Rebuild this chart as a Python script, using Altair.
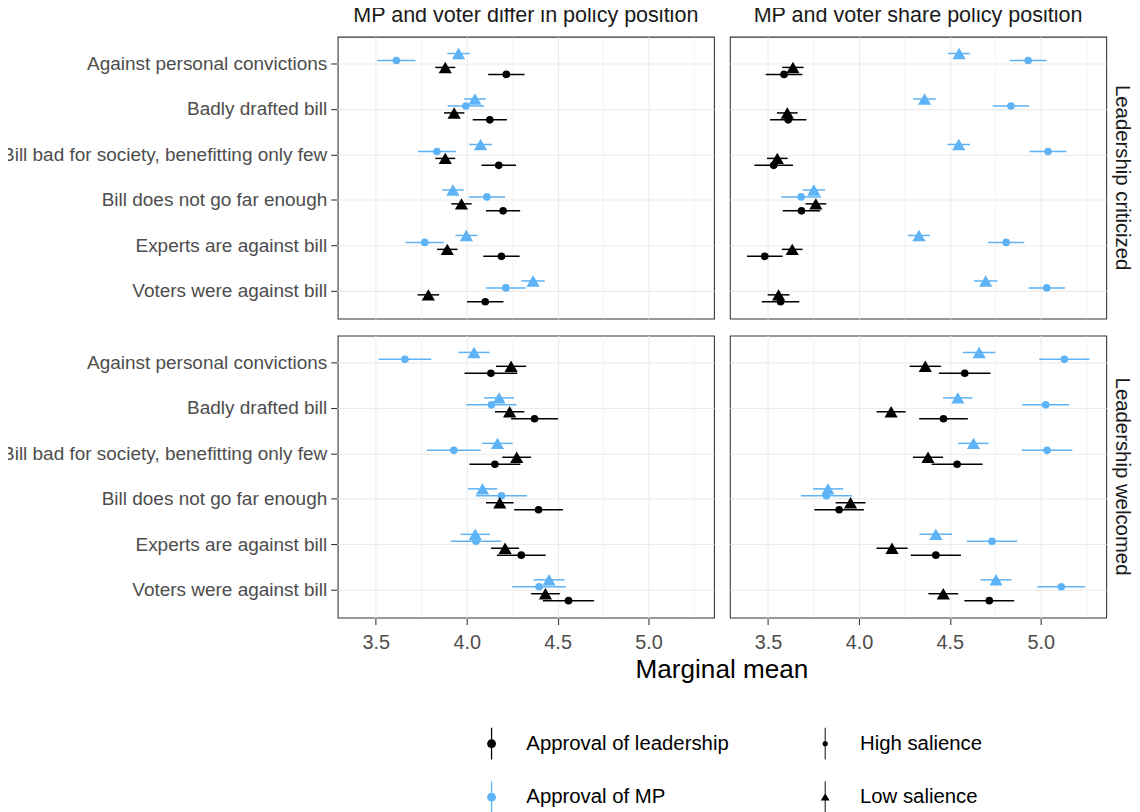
import altair as alt
import pandas as pd

categories = [
    "Against personal convictions",
    "Badly drafted bill",
    "Bill bad for society, benefitting only few",
    "Bill does not go far enough",
    "Experts are against bill",
    "Voters were against bill",
]
positions = ["MP and voter differ in policy position", "MP and voter share policy position"]
reactions = ["Leadership criticized", "Leadership welcomed"]
outcomes = ["Approval of leadership", "Approval of MP"]
saliences = ["High salience", "Low salience"]

# Leadership criticized / MP and voter differ
cd_mp_low_est = [3.955, 4.045, 4.076, 3.924, 3.998, 4.365]
cd_mp_low_ci = [0.062, 0.060, 0.062, 0.059, 0.060, 0.064]
cd_mp_high_est = [3.613, 3.995, 3.836, 4.111, 3.769, 4.215]
cd_mp_high_ci = [0.105, 0.100, 0.104, 0.100, 0.105, 0.110]
cd_ld_low_est = [3.882, 3.931, 3.882, 3.971, 3.893, 3.789]
cd_ld_low_ci = [0.055, 0.056, 0.055, 0.056, 0.056, 0.059]
cd_ld_high_est = [4.218, 4.127, 4.176, 4.200, 4.191, 4.102]
cd_ld_high_ci = [0.100, 0.094, 0.095, 0.094, 0.100, 0.100]

# Leadership criticized / MP and voter share
cs_mp_low_est = [4.551, 4.361, 4.549, 3.752, 4.330, 4.697]
cs_mp_low_ci = [0.061, 0.062, 0.062, 0.061, 0.060, 0.065]
cs_mp_high_est = [4.931, 4.836, 5.040, 3.682, 4.810, 5.033]
cs_mp_high_ci = [0.101, 0.100, 0.101, 0.110, 0.100, 0.100]
cs_ld_low_est = [3.637, 3.606, 3.551, 3.763, 3.633, 3.558]
cs_ld_low_ci = [0.059, 0.057, 0.057, 0.057, 0.057, 0.060]
cs_ld_high_est = [3.588, 3.611, 3.531, 3.684, 3.482, 3.569]
cs_ld_high_ci = [0.101, 0.100, 0.106, 0.103, 0.098, 0.103]

# Leadership welcomed / MP and voter differ
wd_mp_low_est = [4.040, 4.178, 4.169, 4.087, 4.047, 4.453]
wd_mp_low_ci = [0.086, 0.082, 0.084, 0.081, 0.081, 0.085]
wd_mp_high_est = [3.660, 4.136, 3.929, 4.191, 4.051, 4.398]
wd_mp_high_ci = [0.145, 0.138, 0.148, 0.140, 0.140, 0.148]
wd_ld_low_est = [4.244, 4.236, 4.275, 4.182, 4.211, 4.433]
wd_ld_low_ci = [0.083, 0.081, 0.079, 0.076, 0.077, 0.079]
wd_ld_high_est = [4.133, 4.373, 4.155, 4.395, 4.300, 4.560]
wd_ld_high_ci = [0.145, 0.129, 0.140, 0.134, 0.134, 0.141]

# Leadership welcomed / MP and voter share
ws_mp_low_est = [4.661, 4.544, 4.630, 3.830, 4.423, 4.754]
ws_mp_low_ci = [0.089, 0.081, 0.083, 0.083, 0.090, 0.085]
ws_mp_high_est = [5.130, 5.027, 5.035, 3.821, 4.732, 5.113]
ws_mp_high_ci = [0.138, 0.128, 0.139, 0.140, 0.139, 0.131]
ws_ld_low_est = [4.365, 4.177, 4.380, 3.954, 4.182, 4.464]
ws_ld_low_ci = [0.086, 0.080, 0.083, 0.082, 0.086, 0.082]
ws_ld_high_est = [4.582, 4.465, 4.540, 3.891, 4.423, 4.717]
ws_ld_high_ci = [0.142, 0.134, 0.140, 0.136, 0.138, 0.137]

x_ticks = [3.5, 3.75, 4.0, 4.25, 4.5, 4.75, 5.0, 5.25]

series = [
    (reactions[0], positions[0], outcomes[1], saliences[1], cd_mp_low_est, cd_mp_low_ci),
    (reactions[0], positions[0], outcomes[1], saliences[0], cd_mp_high_est, cd_mp_high_ci),
    (reactions[0], positions[0], outcomes[0], saliences[1], cd_ld_low_est, cd_ld_low_ci),
    (reactions[0], positions[0], outcomes[0], saliences[0], cd_ld_high_est, cd_ld_high_ci),
    (reactions[0], positions[1], outcomes[1], saliences[1], cs_mp_low_est, cs_mp_low_ci),
    (reactions[0], positions[1], outcomes[1], saliences[0], cs_mp_high_est, cs_mp_high_ci),
    (reactions[0], positions[1], outcomes[0], saliences[1], cs_ld_low_est, cs_ld_low_ci),
    (reactions[0], positions[1], outcomes[0], saliences[0], cs_ld_high_est, cs_ld_high_ci),
    (reactions[1], positions[0], outcomes[1], saliences[1], wd_mp_low_est, wd_mp_low_ci),
    (reactions[1], positions[0], outcomes[1], saliences[0], wd_mp_high_est, wd_mp_high_ci),
    (reactions[1], positions[0], outcomes[0], saliences[1], wd_ld_low_est, wd_ld_low_ci),
    (reactions[1], positions[0], outcomes[0], saliences[0], wd_ld_high_est, wd_ld_high_ci),
    (reactions[1], positions[1], outcomes[1], saliences[1], ws_mp_low_est, ws_mp_low_ci),
    (reactions[1], positions[1], outcomes[1], saliences[0], ws_mp_high_est, ws_mp_high_ci),
    (reactions[1], positions[1], outcomes[0], saliences[1], ws_ld_low_est, ws_ld_low_ci),
    (reactions[1], positions[1], outcomes[0], saliences[0], ws_ld_high_est, ws_ld_high_ci),
]

rows = []
for reaction, position, outcome, salience, ests, cis in series:
    for cat, e, c in zip(categories, ests, cis):
        rows.append({
            "reaction": reaction, "position": position, "outcome": outcome,
            "salience": salience, "grp": outcome + " / " + salience,
            "category": cat, "est": e, "lo": e - c, "hi": e + c,
        })
df = pd.DataFrame(rows)

grp_order = [
    outcomes[1] + " / " + saliences[1],
    outcomes[1] + " / " + saliences[0],
    outcomes[0] + " / " + saliences[1],
    outcomes[0] + " / " + saliences[0],
]

BLUE = "#5DB3F5"
FONT = "Liberation Sans"

path_color = "M-0.04,-1L0.04,-1L0.04,1L-0.04,1ZM0.28,0A0.28,0.28,0,1,1,-0.28,0A0.28,0.28,0,1,1,0.28,0Z"
path_high = "M-0.03,-1L0.03,-1L0.03,1L-0.03,1ZM0.17,0A0.17,0.17,0,1,1,-0.17,0A0.17,0.17,0,1,1,0.17,0Z"
path_low = "M-0.03,-1L0.03,-1L0.03,1L-0.03,1ZM0,-0.26L0.28,0.21L-0.28,0.21Z"

x_scale = alt.Scale(domain=[3.29, 5.36], nice=False, zero=False)
x_axis = alt.Axis(
    title=None, values=x_ticks,
    labelExpr="datum.value % 0.5 == 0 ? format(datum.value, '.1f') : ''",
    gridWidth={"condition": {"test": "datum.value % 0.5 == 0", "value": 1.07}, "value": 0.55},
    tickOpacity={"condition": {"test": "datum.value % 0.5 == 0", "value": 1}, "value": 0},
    labelFontSize=20, labelPadding=8, tickSize=6,
)
y_enc = alt.Y(
    "category:N", sort=categories,
    scale=alt.Scale(type="band", paddingInner=0, paddingOuter=0.1),
    axis=alt.Axis(title=None, bandPosition=0.5, labelFontSize=19.1, labelPadding=4,
                  tickSize=6, gridWidth=1.07, labelLimit=400),
)
yoff = alt.YOffset("grp:N", sort=grp_order,
                   scale=alt.Scale(domain=grp_order, range=[8.9, 36.9], paddingInner=0, paddingOuter=0))

color_legend = alt.Legend(
    title=None, orient="none", legendX=139, legendY=696, direction="vertical",
    symbolType=path_color, symbolSize=1024, labelFontSize=20.5, labelColor="black",
    labelOffset=19, rowPadding=22, symbolStrokeWidth=0, labelLimit=400,
)
shape_legend = alt.Legend(
    title=None, orient="none", legendX=475, legendY=696, direction="vertical",
    symbolSize=1024, labelFontSize=20.5, labelColor="black",
    labelOffset=19, rowPadding=22, symbolStrokeWidth=0, labelLimit=400,
)
color_scale = alt.Scale(domain=outcomes, range=["#000000", BLUE])
shape_scale = alt.Scale(domain=saliences, range=[path_high, path_low])

base = alt.Chart(df)

proxy = base.transform_filter("false").mark_point(filled=True, opacity=1).encode(
    color=alt.Color("outcome:N", scale=color_scale, legend=color_legend),
    shape=alt.Shape("salience:N", scale=shape_scale, legend=shape_legend),
)
rules = base.mark_rule(strokeWidth=1.5).encode(
    x=alt.X("lo:Q", scale=x_scale, axis=x_axis),
    x2="hi:Q",
    y=y_enc,
    yOffset=yoff,
    color=alt.Color("outcome:N", scale=color_scale, legend=color_legend),
)
points_high = base.transform_filter(alt.datum.salience == saliences[0]).mark_point(
    filled=True, opacity=1, shape="circle", size=59
).encode(
    x=alt.X("est:Q", scale=x_scale, axis=x_axis),
    y=y_enc,
    yOffset=yoff,
    color=alt.Color("outcome:N", scale=color_scale, legend=color_legend),
)
points_low = base.transform_filter(alt.datum.salience == saliences[1]).mark_point(
    filled=True, opacity=1, shape="triangle-up", size=177
).encode(
    x=alt.X("est:Q", scale=x_scale, axis=x_axis),
    y=y_enc,
    yOffset=yoff,
    color=alt.Color("outcome:N", scale=color_scale, legend=color_legend),
)

layered = alt.layer(proxy, rules, points_high, points_low).properties(width=379, height=284)

chart = layered.facet(
    row=alt.Row("reaction:N", sort=reactions, title=None,
                header=alt.Header(labelOrient="right", labelAngle=90, labelFontSize=20.5,
                                  labelColor="#1A1A1A", labelFont=FONT, labelPadding=4)),
    column=alt.Column("position:N", sort=positions, title="Marginal mean",
                      header=alt.Header(labelOrient="top", titleOrient="bottom", labelFontSize=21.7,
                                        labelColor="#1A1A1A", labelFont=FONT, labelPadding=9,
                                        titleFontSize=26.3, titleFontWeight="normal", titleColor="#000000",
                                        titleFont=FONT, titlePadding=-5)),
    spacing={"row": 15, "column": 14},
).properties(
    padding={"left": -7, "top": -6, "right": 0, "bottom": 0}
).configure(font=FONT).configure_view(
    stroke="#333333", strokeWidth=1.07
).configure_axis(
    grid=True, gridColor="#EBEBEB", domain=False, tickColor="#333333", tickWidth=1.07,
    labelFont=FONT, labelColor="#4D4D4D",
).configure_legend(
    padding=0, labelFont=FONT, symbolBaseFillColor="#000000", symbolBaseStrokeColor="#000000",
)

chart.save("out.html", embed_options={"renderer": "svg", "actions": False})
